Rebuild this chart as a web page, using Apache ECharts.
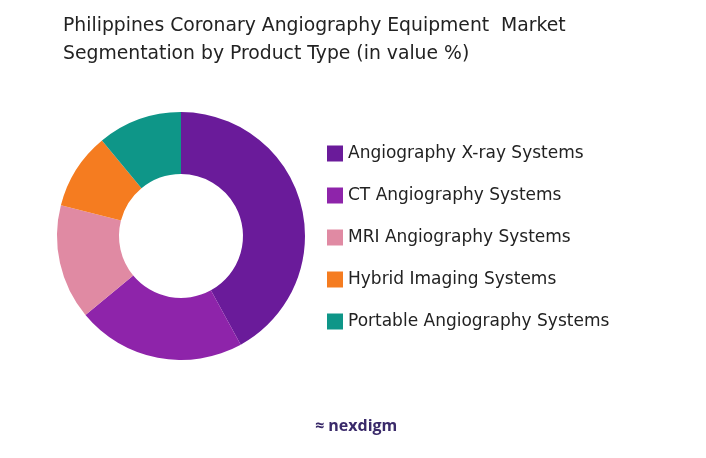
<!DOCTYPE html><html><head><meta charset="utf-8"><script src="https://cdn.jsdelivr.net/npm/echarts@6/dist/echarts.min.js"></script>
<style>body{margin:0}#c{width:706px;height:458px}</style></head><body><div id="c"></div><script>
const categories=["Angiography X-ray Systems","CT Angiography Systems","MRI Angiography Systems","Hybrid Imaging Systems","Portable Angiography Systems"];
const values=[42,22,15,10,11];
const colors=["#6A1B9A","#8E24AA","#E08AA3","#F57C20","#0E9688"];
const chart=echarts.init(document.getElementById('c'));
chart.setOption({
 title:{text:"Philippines Coronary Angiography Equipment  Market\nSegmentation by Product Type (in value %)",left:58,top:7,textStyle:{fontFamily:"DejaVu Sans",fontSize:18.8,fontWeight:"normal",color:"#222",lineHeight:28}},
 legend:{orient:"vertical",left:322,top:140,itemWidth:16,itemHeight:16,itemGap:25,icon:"rect",textStyle:{fontFamily:"DejaVu Sans",fontSize:17,color:"#222"},data:categories},
 graphic:[{type:"text",left:315,top:418,style:{text:"\u2248 nexdigm",fontFamily:"Open Sans",fontSize:16,fontWeight:"bold",fill:"#3a2a6a"}}],
 series:[{type:"pie",center:[181,236],radius:[62,124],startAngle:90,clockwise:true,label:{show:false},
  data:categories.map((n,i)=>({name:n,value:values[i],itemStyle:{color:colors[i]}}))}]
});
</script></body></html>
